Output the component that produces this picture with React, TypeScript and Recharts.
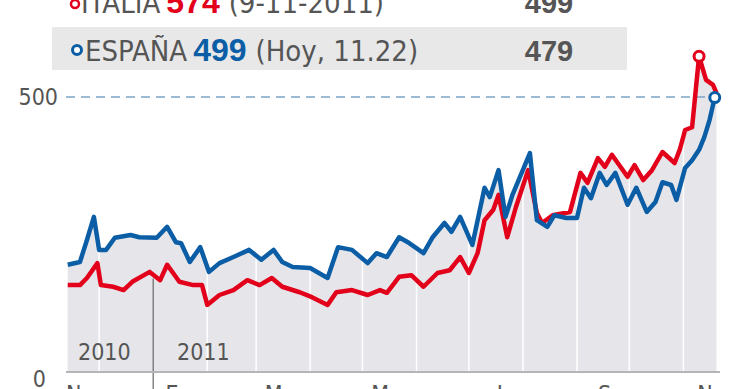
import { ComposedChart, Line, Area, XAxis, YAxis, ReferenceLine, ReferenceDot } from 'recharts'

const NARROW = "'Liberation Sans Narrow', 'DejaVu Sans Condensed', 'Arial Narrow', sans-serif"
const WIDE = "'Liberation Sans', Arial, sans-serif"
const RED = '#e2001a'
const BLUE = '#0b5ea6'
const TEXT = '#555'

// days counted from 1 Nov 2010
const italyDays = [
  12, 19, 23, 29, 31, 38, 44, 49, 59, 65, 69, 76, 84, 89, 92, 99, 107, 115, 122, 129,
  135, 145, 152, 161, 166, 175, 184, 191, 195, 202, 209, 216, 224, 231, 237, 242, 247,
  251, 256, 259, 264, 269, 276, 281, 284, 290, 300, 306, 310, 316, 320, 324, 333, 337,
  342, 347, 353, 360, 363, 366, 370, 374, 378, 382, 384,
]
const italyValues = [
  158, 158, 171, 198, 158, 155, 149, 164, 182, 167, 195, 164, 158, 158, 122, 140, 149, 167, 158, 171,
  155, 145, 136, 122, 145, 149, 140, 149, 144, 173, 176, 155, 180, 185, 209, 180, 216,
  276, 295, 322, 245, 300, 367, 289, 271, 285, 291, 362, 344, 389, 373, 395, 355, 376,
  349, 367, 400, 380, 405, 440, 445, 574, 531, 522, 507,
]

const spainDays = [
  12, 19, 23, 27, 30, 34, 39, 48, 53, 63, 69, 74, 77, 82, 88, 93, 99, 107, 116, 123,
  130, 135, 141, 151, 161, 167, 175, 184, 189, 195, 202, 208, 216, 221, 228, 232, 237,
  244, 251, 254, 259, 263, 267, 277, 281, 287, 291, 298, 304, 308, 312, 317, 321, 326,
  333, 338, 344, 349, 353, 358, 361, 366, 370, 374, 377, 380, 383,
]
const spainValues = [
  195, 200, 240, 282, 222, 222, 244, 249, 245, 244, 264, 236, 234, 200, 227, 182, 198, 209, 222, 204,
  222, 200, 191, 189, 171, 227, 222, 198, 216, 209, 245, 234, 216, 244, 271, 255, 282,
  231, 335, 318, 367, 282, 322, 398, 276, 264, 285, 280, 280, 335, 316, 362, 340, 362,
  304, 335, 291, 309, 345, 340, 313, 371, 385, 404, 427, 458, 499,
]

const monthLines = [30, 92, 120, 151, 181, 212, 242, 273, 304, 334, 365]
const yearStart = 61
const monthTickDays = [11, 68, 125, 186, 258, 316, 373]
const monthTickLabels = ['N', 'E', 'M', 'M', 'J', 'S', 'N']
const yTicks = [0, 500]

type Row = { d: number; italy?: number; spain?: number }

function buildRows(): Row[] {
  const byDay = new Map<number, Row>()
  italyDays.forEach((d, i) => {
    byDay.set(d, { ...(byDay.get(d) ?? { d }), italy: italyValues[i] })
  })
  spainDays.forEach((d, i) => {
    byDay.set(d, { ...(byDay.get(d) ?? { d }), spain: spainValues[i] })
  })
  return [...byDay.values()].sort((a, b) => a.d - b.d)
}

const rows = buildRows()
const italyPeak = italyValues.indexOf(Math.max(...italyValues))
const spainLast = spainValues.length - 1

function YTick({ y, payload }: any) {
  const isZero = payload.value === 0
  return (
    <text
      x={isZero ? 46 : 58}
      y={y + (isZero ? 7 : 0)}
      textAnchor="end"
      dominantBaseline="central"
      fontFamily={NARROW}
      fontSize={23}
      fill={TEXT}
    >
      {payload.value}
    </text>
  )
}

function MonthTick({ x, y, index }: any) {
  return (
    <text x={x} y={y + 22} textAnchor="start" fontFamily={NARROW} fontSize={23} fill={TEXT}>
      {monthTickLabels[index]}
    </text>
  )
}

function Header() {
  return (
    <svg width={740} height={80} style={{ position: 'absolute', left: 0, top: 0 }}>
      <circle cx={75} cy={4} r={4} fill="#fff" stroke={RED} strokeWidth={2.5} />
      <text x={81} y={13} fontFamily={NARROW} fontSize={29} fill={TEXT}>
        ITALIA
        <tspan dx={6} fontFamily={WIDE} fontWeight="bold" fontSize={32} fill={RED}>574</tspan>
        <tspan dx={9}>(9-11-2011)</tspan>
      </text>
      <text x={549} y={13} textAnchor="middle" fontFamily={WIDE} fontWeight="bold" fontSize={29} fill={TEXT}>
        499
      </text>

      <rect x={52} y={27} width={575} height={43} fill="#e8e8e9" />
      <circle cx={77} cy={50} r={4.5} fill="#fff" stroke={BLUE} strokeWidth={3} />
      <text x={85} y={61} fontFamily={NARROW} fontSize={29} fill={TEXT}>
        ESPAÑA
        <tspan dx={6} fontFamily={WIDE} fontWeight="bold" fontSize={32} fill={BLUE}>499</tspan>
        <tspan dx={9}>(Hoy, 11.22)</tspan>
      </text>
      <text x={549} y={61} textAnchor="middle" fontFamily={WIDE} fontWeight="bold" fontSize={29} fill={TEXT}>
        479
      </text>
    </svg>
  )
}

export default function App() {
  return (
    <div
      style={{
        position: 'absolute',
        left: 0,
        top: 0,
        width: 740,
        height: 389,
        overflow: 'hidden',
        background: '#fff',
      }}
    >
      <ComposedChart
        width={740}
        height={410}
        data={rows}
        margin={{ top: 42, right: 20, bottom: 0, left: 0 }}
      >
        <XAxis
          type="number"
          dataKey="d"
          domain={[11, 386]}
          ticks={monthTickDays}
          interval={0}
          tickLine={false}
          axisLine={{ stroke: '#b5b5b8', strokeWidth: 2 }}
          tick={<MonthTick />}
          height={38}
        />
        <YAxis
          type="number"
          domain={[0, 600]}
          ticks={yTicks}
          axisLine={false}
          tickLine={false}
          tick={<YTick />}
          width={66}
        />
        <Area
          dataKey="italy"
          connectNulls
          fill="#e6e6ea"
          fillOpacity={1}
          stroke="none"
          isAnimationActive={false}
        />
        <Area
          dataKey="spain"
          connectNulls
          fill="#e6e6ea"
          fillOpacity={1}
          stroke="none"
          isAnimationActive={false}
        />
        {monthLines.map(d => (
          <ReferenceLine key={d} x={d} stroke="#ffffff" strokeWidth={1.5} />
        ))}
        <ReferenceLine
          segment={[{ x: yearStart, y: 170 }, { x: yearStart, y: -40 }]}
          ifOverflow="visible"
          stroke="#666"
          strokeWidth={1.2}
        />
        <ReferenceLine y={500} stroke="#7ea4c6" strokeWidth={1.5} strokeDasharray="9 6" />
        <Line
          dataKey="italy"
          connectNulls
          stroke={RED}
          strokeWidth={4.5}
          strokeLinejoin="round"
          dot={false}
          type="linear"
          isAnimationActive={false}
        />
        <Line
          dataKey="spain"
          connectNulls
          stroke={BLUE}
          strokeWidth={4.5}
          strokeLinejoin="round"
          dot={false}
          type="linear"
          isAnimationActive={false}
        />
        <ReferenceDot
          x={italyDays[italyPeak]}
          y={italyValues[italyPeak]}
          r={5}
          fill="#fff"
          stroke={RED}
          strokeWidth={3}
        />
        <ReferenceDot
          x={spainDays[spainLast]}
          y={spainValues[spainLast]}
          r={5}
          fill="#fff"
          stroke={BLUE}
          strokeWidth={3}
        />
      </ComposedChart>
      <div
        style={{
          position: 'absolute',
          left: 0,
          top: 0,
          width: 740,
          height: 389,
          pointerEvents: 'none',
        }}
      >
        <svg width={740} height={389} style={{ position: 'absolute', left: 0, top: 0 }}>
          <text x={78} y={360} fontFamily={NARROW} fontSize={23} fill={TEXT}>2010</text>
          <text x={177} y={360} fontFamily={NARROW} fontSize={23} fill={TEXT}>2011</text>
        </svg>
        <Header />
      </div>
    </div>
  )
}
